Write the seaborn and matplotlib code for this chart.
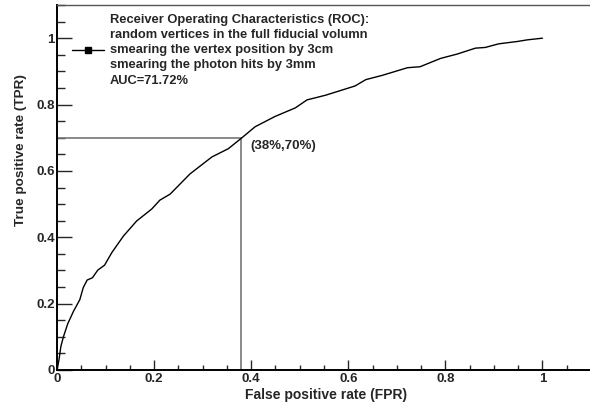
import numpy as np
import pandas as pd
import matplotlib
matplotlib.use("Agg")
import matplotlib.pyplot as plt
from matplotlib.lines import Line2D
from matplotlib.ticker import MultipleLocator
import seaborn as sns

fpr = [0.0, 0.0006, 0.004, 0.008, 0.013, 0.022, 0.034, 0.047, 0.054, 0.062, 0.073,
       0.084, 0.098, 0.113, 0.137, 0.164, 0.195, 0.212, 0.233, 0.274, 0.319, 0.353,
       0.381, 0.408, 0.449, 0.491, 0.515, 0.553, 0.614, 0.636, 0.670, 0.722, 0.748,
       0.790, 0.824, 0.862, 0.882, 0.910, 0.948, 0.969, 1.0]
tpr = [0.0, 0.005, 0.030, 0.071, 0.099, 0.139, 0.177, 0.212, 0.248, 0.271, 0.278,
       0.301, 0.316, 0.354, 0.404, 0.449, 0.485, 0.512, 0.530, 0.591, 0.642, 0.667,
       0.700, 0.733, 0.764, 0.790, 0.814, 0.828, 0.856, 0.875, 0.888, 0.911, 0.914,
       0.939, 0.952, 0.970, 0.972, 0.983, 0.990, 0.995, 1.0]
working_point = (0.38, 0.70)
point_label = "(38%,70%)"
legend_text = ("Receiver Operating Characteristics (ROC):\n"
               "random vertices in the full fiducial volumn\n"
               "smearing the vertex position by 3cm\n"
               "smearing the photon hits by 3mm\n"
               "AUC=71.72%")
xlabel = "False positive rate (FPR)"
ylabel = "True positive rate (TPR)"

sns.set_style("ticks")
plt.rcParams['font.family'] = ['Liberation Sans', 'DejaVu Sans']
plt.rcParams['font.weight'] = 'bold'

fig = plt.figure(figsize=(5.9, 4.08), dpi=100)
ax = fig.add_axes([57/590, 38/408, 534/590, 365/408])

df = pd.DataFrame({"fpr": fpr, "tpr": tpr})
sns.lineplot(data=df, x="fpr", y="tpr", ax=ax, color="black", linewidth=1.0,
             sort=False, estimator=None)

wx, wy = working_point
ax.plot([0, wx], [wy, wy], color="#777777", lw=1.2, zorder=1)
ax.plot([wx, wx], [0, wy], color="#777777", lw=1.2, zorder=1)
ax.text(0.398, 0.676, point_label, fontsize=9.5, fontweight='bold', va='center', ha='left')

ax.set_xlim(0, 1.1)
ax.set_ylim(0, 1.1)
ax.xaxis.set_major_locator(MultipleLocator(0.2))
ax.xaxis.set_minor_locator(MultipleLocator(0.05))
ax.yaxis.set_major_locator(MultipleLocator(0.2))
ax.yaxis.set_minor_locator(MultipleLocator(0.05))
fmt = lambda v, p: ("%g" % round(v, 2))
ax.xaxis.set_major_formatter(plt.FuncFormatter(fmt))
ax.yaxis.set_major_formatter(plt.FuncFormatter(fmt))

ax.tick_params(axis='x', which='major', direction='in', length=7.2, width=1.0, pad=2, labelsize=9.5)
ax.tick_params(axis='x', which='minor', direction='in', length=3.6, width=1.0)
ax.tick_params(axis='y', which='major', direction='in', length=10.8, width=1.0, pad=1.5, labelsize=9.5)
ax.tick_params(axis='y', which='minor', direction='in', length=5.8, width=1.0)
for lab in ax.get_xticklabels() + ax.get_yticklabels():
    lab.set_fontweight('bold')

for s in ['left', 'bottom']:
    ax.spines[s].set_linewidth(1.4)
    ax.spines[s].set_color('black')
ax.spines['top'].set_linewidth(1.0)
ax.spines['top'].set_color('#555555')
ax.spines['right'].set_visible(False)

ax.set_xlabel(xlabel, fontsize=10, fontweight='bold')
ax.set_ylabel(ylabel, fontsize=9.7, fontweight='bold')
ax.xaxis.set_label_coords(0.503, -0.050)
ax.yaxis.set_label_coords(-0.056, 0.603)

handle = Line2D([], [], color='black', lw=1.0, marker='s', markersize=5)
leg = ax.legend([handle], [legend_text], loc='upper left', bbox_to_anchor=(0.028, 0.976),
                frameon=False, handlelength=2.5, handletextpad=0.45, borderpad=0,
                borderaxespad=0, prop={'size': 9.3, 'weight': 'bold'})
for t in leg.get_texts():
    t.set_linespacing(1.36)

fig.savefig("out.png", dpi=100)
